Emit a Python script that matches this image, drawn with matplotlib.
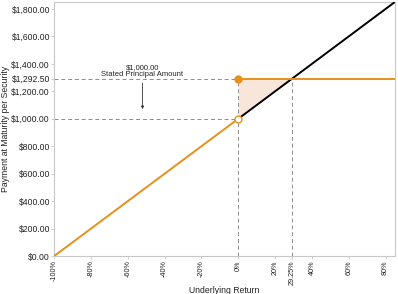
import matplotlib
matplotlib.use("Agg")
import matplotlib.pyplot as plt
import numpy as np

plt.rcParams['font.family'] = ['Liberation Sans', 'DejaVu Sans']

# data
principal = 1000.0
cap_return = 29.25
cap_payment = 1292.50
x_max = 85
ret_down = [-100, 0]
pay_down = [0, 1000]
ret_up = [0, x_max]
pay_up = [1000, 1850]
ret_cap = [0, x_max]
pay_cap = [cap_payment, cap_payment]
fill_x = [0, cap_return]
xticks = [-100, -80, -60, -40, -20, 0, 20, 29.25, 40, 60, 80]
xticklabels = ['-100%', '-80%', '-60%', '-40%', '-20%', '0%', '20%', '29.25%', '40%', '60%', '80%']
yticks = [0, 200, 400, 600, 800, 1000, 1200, 1292.5, 1400, 1600, 1800]
yticklabels = ['$0.00', '$200.00', '$400.00', '$600.00', '$800.00', '$1,000.00',
               '$1,200.00', '$1,292.50', '$1,400.00', '$1,600.00', '$1,800.00']

orange = '#E8901A'
grey = '#8c8c8c'

fig = plt.figure(figsize=(3.98, 2.94), dpi=100)
ax = fig.add_axes([0.136, 0.129, 0.856, 0.864])

# shaded region between the capped payment and the underlying
fx = np.array(fill_x)
ax.fill_between(fx, principal * (1 + fx / 100), cap_payment, color='#F8E6DA', lw=0, zorder=1)

# dashed guide lines
ax.plot([-100, 0], [cap_payment, cap_payment], ls=(0, (4, 3)), color=grey, lw=0.7, zorder=2)
ax.plot([-100, 0], [principal, principal], ls=(0, (4, 3)), color=grey, lw=0.7, zorder=2)
ax.plot([0, 0], [0, cap_payment], ls=(0, (4, 3)), color=grey, lw=0.7, zorder=2)
ax.plot([cap_return, cap_return], [0, cap_payment], ls=(0, (4, 3)), color=grey, lw=0.7, zorder=2)

ax.plot(ret_up, pay_up, color='black', lw=1.4, zorder=3)
ax.plot(ret_down, pay_down, color=orange, lw=1.4, zorder=4)
ax.plot(ret_cap, pay_cap, color=orange, lw=1.4, zorder=4)
ax.plot([0], [cap_payment], 'o', color=orange, ms=5, zorder=5)
ax.plot([0], [principal], 'o', mfc='white', mec=orange, mew=1.0, ms=5, zorder=5)

ax.annotate('$1,000.00\nStated Principal Amount', xy=(-52, 1050), xytext=(-52, 1300),
            ha='center', va='bottom', fontsize=5.5, color='#222222', linespacing=0.95,
            arrowprops=dict(arrowstyle='-|>', color='#333333', lw=0.6, mutation_scale=4))

ax.set_xlim(-100, x_max)
ax.set_ylim(0, 1850)
ax.set_xticks(xticks)
ax.set_xticklabels(xticklabels, rotation=90, fontsize=5.2, color='#222222')
ax.set_yticks(yticks)
ax.set_yticklabels(yticklabels, fontsize=6.2, color='#222222')
ax.tick_params(length=2, width=0.5, color='#bbbbbb', pad=1)
for s in ax.spines.values():
    s.set_color('#c8c8c8')
    s.set_linewidth(0.8)

ax.set_xlabel('Underlying Return', fontsize=6.2, color='#222222', labelpad=1)
ax.set_ylabel('Payment at Maturity per Security', fontsize=6.2, color='#222222', labelpad=1)

fig.savefig('out.png', dpi=100)
